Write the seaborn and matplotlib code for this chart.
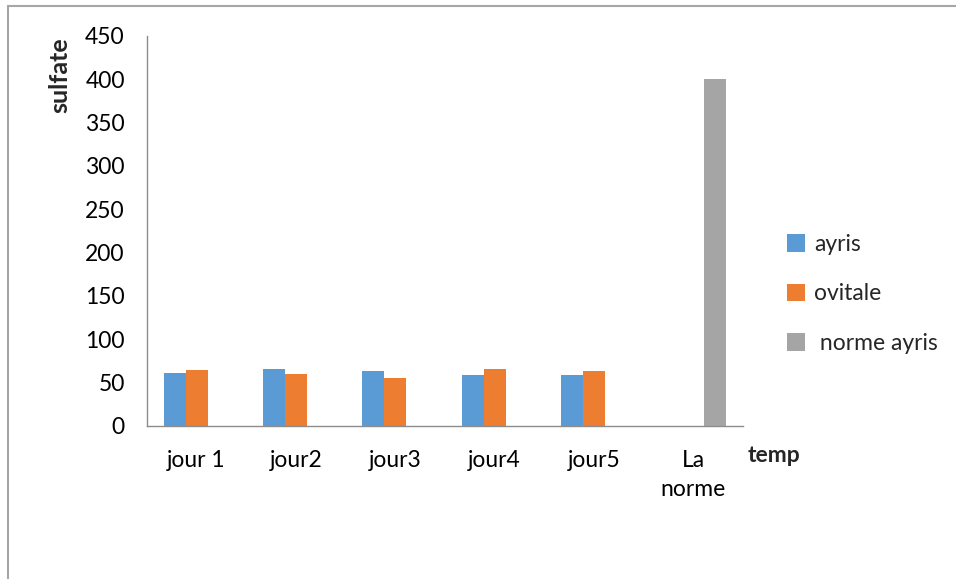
import matplotlib
matplotlib.use("Agg")
import matplotlib.pyplot as plt
from matplotlib.lines import Line2D
import seaborn as sns
import pandas as pd
import numpy as np

categories = ["jour 1", "jour2", "jour3", "jour4", "jour5", "La\nnorme"]
ayris = [61, 65.5, 63, 58.5, 58.5, np.nan]
ovitale = [65, 60, 55, 66, 63.5, np.nan]
norme_ayris = [np.nan, np.nan, np.nan, np.nan, np.nan, 400]
series_names = ["ayris", "ovitale", " norme ayris"]
colors = ["#5B9BD5", "#ED7D31", "#A5A5A5"]
yticks = list(range(0, 451, 50))

rows = []
for name, vals in zip(series_names, [ayris, ovitale, norme_ayris]):
    for c, v in zip(categories, vals):
        rows.append({"cat": c, "series": name, "val": v})
df = pd.DataFrame(rows).dropna()

sns.set_style("white")
plt.rcParams['font.family'] = ['Lato', 'DejaVu Sans']

W, H = 956, 579
FS = 16.5
fig = plt.figure(figsize=(W / 100, H / 100), dpi=100)
ax = fig.add_axes([147 / W, 1 - 426 / H, (743 - 147) / W, (426 - 36) / H])

sns.barplot(data=df, x="cat", y="val", hue="series", order=categories,
            hue_order=series_names, palette=colors, width=0.667,
            errorbar=None, saturation=1, linewidth=0, ax=ax)

ax.set_xlim(-0.5, len(categories) - 0.5)
ax.set_ylim(0, 450)
ax.set_yticks(yticks)
ax.set_yticklabels([str(t) for t in yticks], fontsize=FS)
ax.set_xticks(range(len(categories)))
ax.set_xticklabels(categories, fontsize=FS, linespacing=1.5)
ax.set_xlabel("")
ax.set_ylabel("")

for s in ["top", "right"]:
    ax.spines[s].set_visible(False)
for s in ["left", "bottom"]:
    ax.spines[s].set_color("#8C8C8C")
    ax.spines[s].set_linewidth(1)
ax.tick_params(axis="y", length=10, width=1, color="#8C8C8C", pad=6, labelcolor="black")
ax.tick_params(axis="x", length=0, pad=17, labelcolor="black")

fig.text(60 / W, 1 - 37 / H, "sulfate", rotation=90, ha="center", va="top",
         fontsize=18, fontweight="bold")
fig.text(748 / W, 1 - 455 / H, "temp", ha="left", va="center",
         fontsize=FS, fontweight="bold")

handles, labels = ax.get_legend_handles_labels()
ax.legend(handles, labels, loc="center left",
          bbox_to_anchor=(766 / W, 1 - 294 / H), bbox_transform=fig.transFigure,
          frameon=False, fontsize=FS, handlelength=0.8, handleheight=0.8,
          labelspacing=1.25, handletextpad=0.4)

fig.add_artist(Line2D([7.5 / W, 7.5 / W], [0, 1 - 5.5 / H], color="#A6A6A6", lw=1.5,
                      transform=fig.transFigure))
fig.add_artist(Line2D([7.5 / W, 1], [1 - 5.5 / H, 1 - 5.5 / H], color="#A6A6A6", lw=1.5,
                      transform=fig.transFigure))

fig.savefig("out.png", dpi=100)
